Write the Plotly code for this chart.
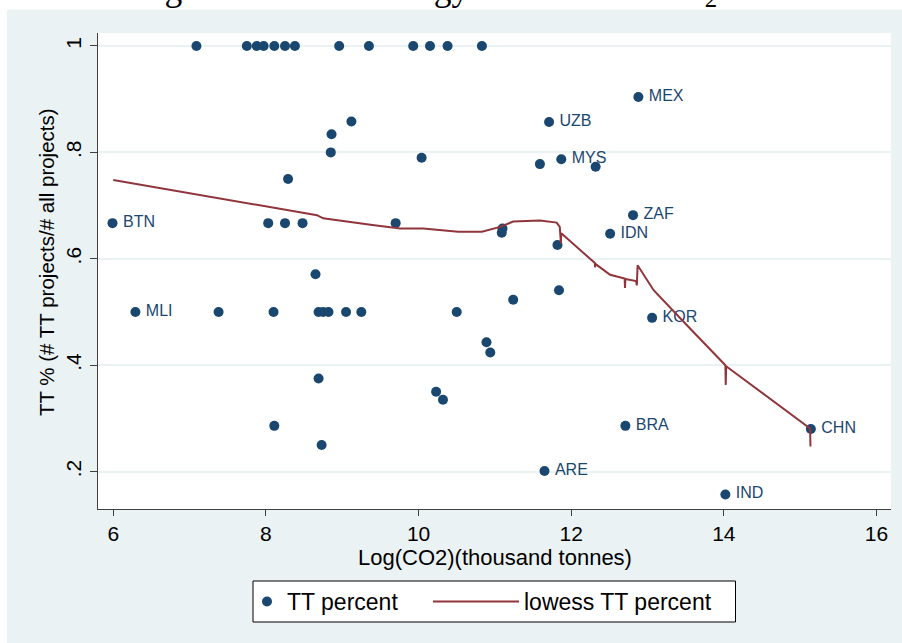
import plotly.graph_objects as go

# ---------------- data ----------------
x_co2 = [7.09, 7.75, 7.88, 7.97, 8.11, 8.25, 8.38, 8.96, 9.35, 9.93, 10.15, 10.38, 10.83,
         9.12, 8.86, 8.85, 10.04, 8.29,
         5.99, 8.03, 8.25, 8.48, 9.70, 11.09, 11.10, 11.59,
         8.65, 6.29, 7.38, 8.10, 8.69, 8.75, 8.82, 9.05, 9.25, 10.50, 11.24,
         10.89, 10.94, 8.69, 10.23, 10.32, 8.11, 8.73,
         12.88, 11.71, 11.87, 12.32, 12.81, 12.51, 11.82, 11.84,
         13.06, 12.71, 15.14, 11.65, 14.02]
tt_pct = [1.0, 1.0, 1.0, 1.0, 1.0, 1.0, 1.0, 1.0, 1.0, 1.0, 1.0, 1.0, 1.0,
          0.858, 0.834, 0.800, 0.790, 0.750,
          0.667, 0.667, 0.667, 0.667, 0.667, 0.649, 0.657, 0.778,
          0.571, 0.500, 0.500, 0.500, 0.500, 0.500, 0.500, 0.500, 0.500, 0.500, 0.523,
          0.443, 0.424, 0.375, 0.350, 0.335, 0.286, 0.250,
          0.904, 0.857, 0.787, 0.773, 0.682, 0.647, 0.626, 0.541,
          0.489, 0.286, 0.280, 0.201, 0.157]
country = ["", "", "", "", "", "", "", "", "", "", "", "", "",
           "", "", "", "", "",
           "BTN", "", "", "", "", "", "", "",
           "", "MLI", "", "", "", "", "", "", "", "", "",
           "", "", "", "", "", "", "",
           "MEX", "UZB", "MYS", "", "ZAF", "IDN", "", "",
           "KOR", "BRA", "CHN", "ARE", "IND"]

lowess_x = [6.00, 8.67, 8.75, 9.19, 9.37, 9.76, 10.06, 10.52, 10.83, 11.07, 11.24, 11.59,
            11.81, 11.85, 11.865, 11.87, 12.12, 12.31, 12.312, 12.32, 12.51, 12.70, 12.705,
            12.71, 12.85, 12.86, 12.87, 13.08, 13.51, 14.02, 14.025, 14.03, 15.13, 15.135]
lowess_y = [0.748, 0.682, 0.676, 0.667, 0.664, 0.657, 0.657, 0.651, 0.651, 0.660, 0.670, 0.672,
            0.668, 0.660, 0.629, 0.648, 0.617, 0.592, 0.584, 0.590, 0.570, 0.563, 0.545,
            0.562, 0.558, 0.550, 0.588, 0.541, 0.476, 0.400, 0.363, 0.398, 0.281, 0.247]

x_ticks = [6, 8, 10, 12, 14, 16]
y_ticks = [0.2, 0.4, 0.6, 0.8, 1.0]
y_tick_text = [".2", ".4", ".6", ".8", "1"]

# ---------------- style ----------------
NAVY = "#1a476f"
MAROON = "#90353b"
BLUISH = "#eaf2f3"
FONT = "Liberation Sans, Arial, sans-serif"

W, H = 902, 643
ML, MR, MT, MB = 98, 11, 33, 134
PW, PH = W - ML - MR, H - MT - MB


def px(xpix):
    return (xpix - ML) / PW


def py(ypix):
    return 1 - (ypix - MT) / PH


labels = [("\u2009" + c) if c else "" for c in country]

fig = go.Figure()

fig.add_trace(go.Scatter(
    x=x_co2, y=tt_pct, mode="markers+text", text=labels,
    textposition="middle right",
    textfont=dict(family=FONT, size=16, color=NAVY),
    marker=dict(color=NAVY, size=10),
    name="TT percent", legend="legend", cliponaxis=False,
))
fig.add_trace(go.Scatter(
    x=lowess_x, y=lowess_y, mode="lines",
    line=dict(color=MAROON, width=2),
    name="lowess TT percent", legend="legend2",
))

fig.update_layout(
    width=W, height=H,
    margin=dict(l=ML, r=MR, t=MT, b=MB, pad=0),
    paper_bgcolor=BLUISH, plot_bgcolor="white",
    font=dict(family=FONT, size=21, color="black"),
    xaxis=dict(range=[5.80, 16.19], tickvals=x_ticks, showgrid=False, zeroline=False,
               showline=True, linecolor="#404040", linewidth=1.3,
               ticks="outside", ticklen=6, tickwidth=1.3, tickcolor="#404040",
               tickfont=dict(size=21, color="black")),
    yaxis=dict(range=[0.1297, 1.0244], tickvals=y_ticks, ticktext=y_tick_text,
               tickangle=-90, showgrid=True, gridcolor=BLUISH, gridwidth=2,
               zeroline=False, showline=True, linecolor="#404040", linewidth=1.3,
               ticks="outside", ticklen=7, tickwidth=1.3, tickcolor="#404040",
               tickfont=dict(size=21, color="black")),
    legend=dict(orientation="h", x=px(247), xanchor="left", y=py(601.5), yanchor="middle",
                bgcolor="rgba(0,0,0,0)", borderwidth=0, font=dict(size=23),
                itemwidth=30),
    legend2=dict(orientation="h", x=px(428), xanchor="left", y=py(601.5), yanchor="middle",
                 bgcolor="rgba(0,0,0,0)", borderwidth=0, font=dict(size=23),
                 itemwidth=86),
    showlegend=True,
)

# white page strips (outside the graph region) and legend box
fig.add_shape(type="rect", xref="paper", yref="paper", x0=px(0), x1=px(W), y0=py(0), y1=py(9.5),
              fillcolor="white", line=dict(width=0), layer="below")
fig.add_shape(type="rect", xref="paper", yref="paper", x0=px(0), x1=px(7), y0=py(0), y1=py(H),
              fillcolor="white", line=dict(width=0), layer="below")
fig.add_shape(type="rect", xref="paper", yref="paper", x0=px(253), x1=px(735.5), y0=py(581), y1=py(622),
              fillcolor="white", line=dict(color="black", width=1), layer="below")

# axis titles
fig.add_annotation(text="Log(CO2)(thousand tonnes)", xref="paper", yref="paper",
                   x=0.5, y=py(557), xanchor="center", yanchor="middle", showarrow=False,
                   font=dict(size=22, color="black"))
fig.add_annotation(text="TT % (# TT projects/# all projects)", xref="paper", yref="paper",
                   x=px(46), y=py(262), xanchor="center", yanchor="middle", showarrow=False,
                   textangle=-90, font=dict(size=20.5, color="black"))

# cut-off document caption above the graph
fig.add_annotation(text="Figure 3: % technology transfer and CO<sub>2</sub> emissions",
                   xref="paper", yref="paper", x=px(500), y=py(14.5), xanchor="center", yanchor="bottom",
                   showarrow=False, font=dict(family="Liberation Serif, serif", size=35.5, color="black"))

fig.write_html("out.html")
